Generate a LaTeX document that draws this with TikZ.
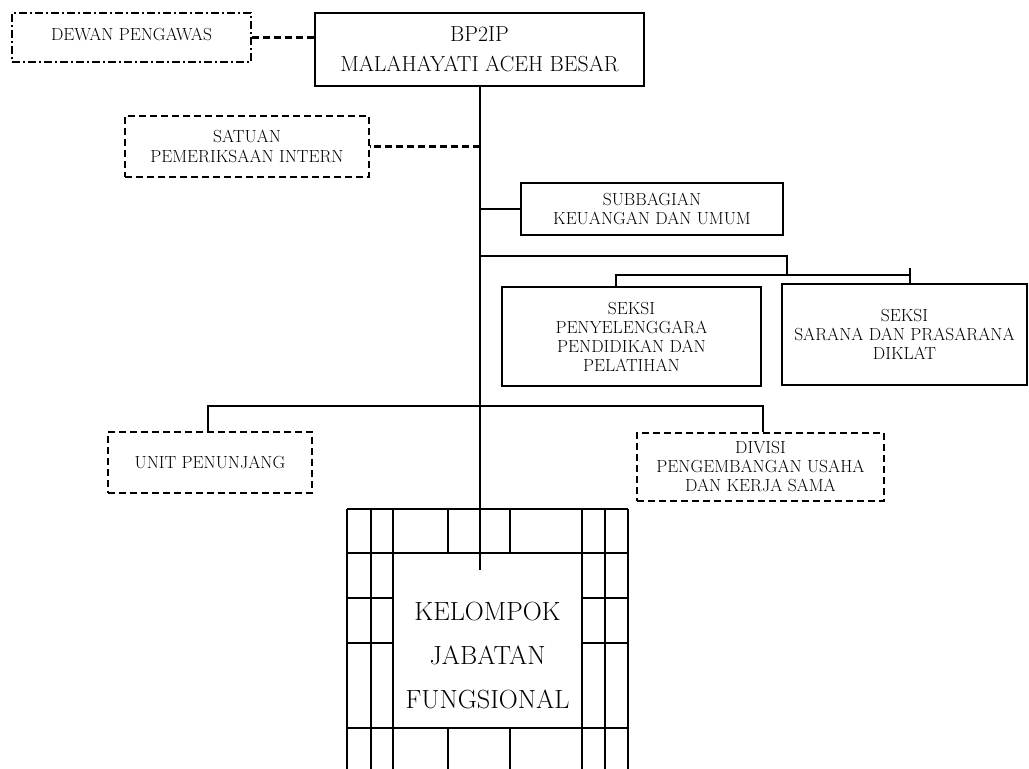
\documentclass[tikz,border=0pt]{standalone}
\usepackage{fontspec}
\begin{document}
\begin{tikzpicture}[
    x=1pt, y=-1pt,
    every node/.style={align=center},
    solidbox/.style={draw, line width=1.8pt, inner sep=0pt,
      font=\fontsize{17.5}{19}\selectfont},
    dashbox/.style={solidbox, dash pattern=on 7pt off 4pt},
    dotdashbox/.style={solidbox, dash pattern=on 8pt off 3pt on 2pt off 3pt},
    conn/.style={line width=1.8pt},
    dconn/.style={line width=2.2pt, dash pattern=on 7pt off 4pt},
    gridline/.style={line width=1.3pt}
  ]
    \useasboundingbox (0,0) rectangle (1029,769);
    \clip (0,0) rectangle (1029,769);
    \node[dotdashbox, minimum width=239, minimum height=49] (dewan) at (131.5,37.5)
      {\raisebox{7pt}{DEWAN PENGAWAS}};
    \node[solidbox, minimum width=329, minimum height=73,
      font=\fontsize{21.8}{30}\selectfont] (bp2ip) at (479.5,49.5)
      {BP2IP\\MALAHAYATI ACEH BESAR};
    \node[dashbox, minimum width=244, minimum height=61,
      font=\fontsize{17.5}{20}\selectfont] (spi) at (247,146.5)
      {SATUAN\\PEMERIKSAAN INTERN};
    \node[solidbox, minimum width=262, minimum height=52] (keu) at (652,209)
      {SUBBAGIAN\\KEUANGAN DAN UMUM};
    \node[solidbox, minimum width=259, minimum height=99] (seksiA) at (631.5,336.5)
      {SEKSI\\PENYELENGGARA\\PENDIDIKAN DAN\\PELATIHAN};
    \node[solidbox, minimum width=245, minimum height=101] (seksiB) at (904.5,334.5)
      {SEKSI\\SARANA DAN PRASARANA\\DIKLAT};
    \node[dashbox, minimum width=204, minimum height=61] (unit) at (210,462.5)
      {UNIT PENUNJANG};
    \node[dashbox, minimum width=247, minimum height=68] (divisi) at (760.5,467)
      {DIVISI\\PENGEMBANGAN USAHA\\DAN KERJA SAMA};
    \node[font=\fontsize{26.3}{44}\selectfont] (kjf) at (487.5,656)
      {KELOMPOK\\JABATAN\\FUNGSIONAL};
    % grid round the functional group
    \draw[gridline] (347,509) -- (628,509) (347,553) -- (628,553) (347,728) -- (628,728);
    \draw[gridline] (347,598) -- (393,598) (347,643) -- (393,643);
    \draw[gridline] (582,598) -- (628,598) (582,643) -- (628,643);
    \draw[gridline] (347,509) -- (347,769) (371,509) -- (371,769) (393,509) -- (393,769);
    \draw[gridline] (582,509) -- (582,769) (605,509) -- (605,769) (628,509) -- (628,769);
    \draw[gridline] (448,509) -- (448,553) (510,509) -- (510,553);
    \draw[gridline] (448,728) -- (448,769) (510,728) -- (510,769);
    % connectors
    \coordinate (kend) at (480,570);
    \coordinate (j1) at (480,256);
    \coordinate (j2) at (787,256);
    \coordinate (j3) at (787,275);
    \coordinate (j4) at (616,275);
    \coordinate (j5) at (910,275);
    \coordinate (j6) at (910,268);
    \coordinate (k1) at (208,406);
    \coordinate (k2) at (763,406);
    \draw[conn] (bp2ip.south -| kend) -- (kend);
    \draw[dconn] (dewan.east) -- (dewan.east -| bp2ip.west);
    \draw[dconn] (spi.east -| kend) -- (spi.east);
    \draw[conn] (keu.west -| kend) -- (keu.west);
    \draw[conn] (j1) -- (j2) -- (j3);
    \draw[conn] (j4 |- seksiA.north) -- (j4) -- (j5);
    \draw[conn] (j6) -- (j6 |- seksiB.north);
    \draw[conn] (k1 |- unit.north) -- (k1) -- (k2) -- (k2 |- divisi.north);
\end{tikzpicture}
\end{document}
